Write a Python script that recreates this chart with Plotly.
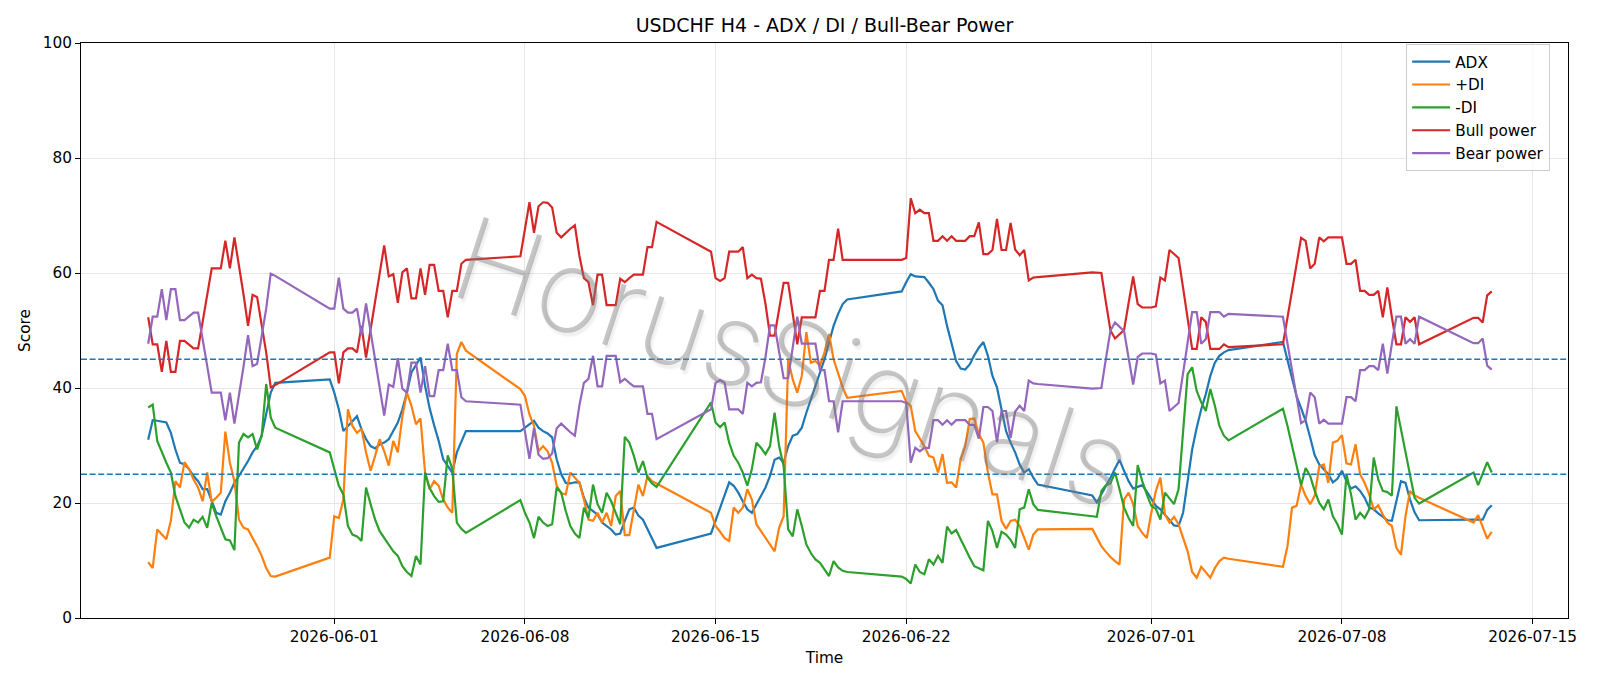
import pandas as pd
import plotly.graph_objects as go

# ---- time axis: H4 bars, one block per trading week ----
week_ranges = [
    ("2026-05-25 04:00", "2026-05-29 20:00"),
    ("2026-05-31 20:00", "2026-06-05 20:00"),
    ("2026-06-07 20:00", "2026-06-12 20:00"),
    ("2026-06-14 20:00", "2026-06-19 20:00"),
    ("2026-06-21 20:00", "2026-06-26 20:00"),
    ("2026-06-28 20:00", "2026-07-03 20:00"),
    ("2026-07-05 20:00", "2026-07-10 20:00"),
    ("2026-07-12 20:00", "2026-07-13 12:00"),
]
times = []
for a, b in week_ranges:
    times.extend(pd.date_range(a, b, freq="4h"))

adx = [
    31.0, 34.4, 34.3, 34.2, 34.0, 32.2, 29.3, 27.0, 26.7, 25.9, 24.7, 23.8, 22.4, 22.4, 20.3, 18.3, 18.0, 20.3, 21.8, 23.5, 24.7, 25.9, 27.3, 28.8, 29.9, 31.7, 35.7, 39.2, 40.9,
    41.5, 39.2, 36.3, 32.5, 33.4, 34.3, 35.1, 32.8, 31.1, 29.9, 29.5, 30.2, 30.5, 31.1, 32.5, 34.0, 36.3, 39.2, 42.7, 43.9, 45.3, 40.4, 36.5, 33.5, 30.8, 27.6, 26.4, 25.3, 28.8, 30.8, 32.5,
    32.5, 33.1, 33.7, 34.3, 33.1, 32.5, 32.1, 31.4, 27.6, 25.0, 23.5, 23.4, 23.6, 23.6, 20.9, 19.2, 18.6, 18.0, 16.6, 16.0, 15.4, 14.5, 14.7, 16.9, 18.9, 19.2, 17.8, 17.1, 15.4, 13.7, 12.2,
    14.7, 17.0, 19.0, 21.2, 23.6, 23.0, 21.8, 20.3, 18.9, 18.3, 19.8, 21.2, 22.7, 24.7, 27.5, 27.9, 27.0, 29.9, 31.7, 32.0, 33.1, 35.7, 38.0, 40.4, 42.7, 45.0, 47.9, 50.8, 52.9, 54.6, 55.4,
    56.8, 58.4, 59.8, 59.4, 59.4, 59.3, 58.3, 57.2, 55.2, 54.4, 50.8, 47.9, 44.7, 43.4, 43.2, 44.1, 45.7, 47.0, 48.0, 45.6, 42.1, 40.1, 36.3, 32.5, 30.5, 28.8, 26.7, 25.3, 25.9, 24.4, 23.2,
    21.3, 20.1, 21.5, 22.8, 24.4, 26.0, 27.5, 25.6, 23.8, 22.5, 22.8, 23.1, 22.0, 20.8, 19.5, 18.9, 18.0, 17.0, 16.1, 16.0, 18.3, 23.8, 29.3, 33.1, 36.3, 38.9, 42.1, 44.4, 45.6, 46.2, 46.6,
    48.0, 45.0, 41.8, 38.6, 36.5, 34.3, 31.4, 28.3, 26.7, 25.9, 25.0, 23.6, 24.2, 25.6, 23.8, 22.5, 22.9, 22.1, 20.9, 19.2, 18.9, 18.2, 17.6, 17.0, 16.9, 20.6, 23.8, 23.5, 20.6, 18.4, 17.0,
    17.1, 17.1, 17.1, 18.8, 19.6,
]

plus_di = [
    9.7, 8.7, 15.4, 14.5, 13.7, 16.9, 23.8, 22.7, 27.1, 25.9, 24.1, 22.7, 20.3, 25.3, 20.2, 20.9, 21.8, 32.4, 27.0, 23.8, 17.1, 15.7, 15.4, 13.9, 12.5, 10.8, 8.7, 7.3, 7.2,
    10.5, 17.7, 17.4, 20.6, 36.3, 33.4, 32.2, 32.9, 28.8, 25.6, 28.2, 31.1, 29.0, 26.5, 30.8, 28.8, 35.1, 39.2, 36.9, 33.7, 34.7, 25.3, 22.4, 23.8, 23.0, 20.6, 19.2, 18.3, 45.9, 48.0, 46.5,
    39.8, 38.6, 35.4, 33.4, 29.0, 29.9, 29.0, 27.0, 23.0, 21.7, 21.5, 25.3, 24.4, 23.5, 20.6, 17.1, 16.9, 18.3, 16.6, 18.3, 16.0, 21.2, 22.1, 14.4, 14.4, 18.9, 23.2, 21.2, 24.7, 23.8, 23.4,
    18.3, 16.0, 15.0, 13.9, 13.4, 19.2, 18.3, 19.2, 22.4, 20.6, 16.3, 15.1, 13.9, 12.8, 11.6, 15.7, 17.7, 45.0, 41.5, 39.2, 42.1, 49.7, 44.4, 44.7, 43.9, 46.2, 49.4, 45.0, 42.7, 40.1, 38.3,
    39.5, 37.6, 36.9, 32.5, 31.1, 29.9, 28.2, 27.9, 25.3, 28.5, 23.5, 23.6, 22.7, 27.6, 29.9, 34.6, 34.7, 32.0, 30.5, 25.3, 21.5, 21.5, 16.9, 15.5, 16.9, 17.1, 16.0, 13.9, 11.9, 14.5, 15.4,
    15.5, 13.9, 12.5, 11.5, 10.6, 9.9, 9.3, 20.6, 21.8, 19.8, 16.0, 14.8, 13.9, 18.3, 22.1, 24.4, 18.0, 16.6, 17.6, 16.3, 13.9, 11.6, 8.0, 7.0, 8.9, 7.9, 7.0, 8.7, 9.9, 10.5, 10.3,
    8.9, 12.5, 19.2, 19.5, 23.2, 21.2, 19.8, 21.3, 26.4, 26.7, 23.5, 30.5, 30.8, 31.8, 26.9, 26.7, 30.2, 25.0, 23.5, 21.5, 18.9, 19.6, 18.0, 16.6, 16.0, 12.2, 11.0, 17.7, 22.1, 21.3, 20.9,
    16.6, 17.9, 15.9, 13.8, 15.0,
]

minus_di = [
    36.6, 37.1, 30.8, 28.8, 27.0, 25.3, 21.2, 18.9, 16.6, 15.7, 17.1, 16.6, 17.6, 15.7, 20.0, 17.7, 15.7, 13.7, 13.5, 11.8, 30.5, 32.0, 31.4, 32.0, 29.3, 31.7, 40.7, 34.9, 33.1,
    28.8, 25.9, 23.0, 21.5, 16.0, 14.5, 14.2, 13.4, 22.7, 19.8, 17.1, 15.1, 13.9, 12.8, 11.6, 10.8, 9.0, 8.0, 7.3, 10.8, 9.3, 25.3, 22.6, 21.2, 20.2, 20.3, 28.3, 25.9, 16.6, 15.5, 14.8,
    20.5, 18.3, 16.6, 13.9, 17.6, 16.6, 16.0, 16.3, 22.7, 21.8, 18.6, 16.0, 14.7, 13.9, 19.2, 17.4, 23.2, 19.8, 18.3, 21.8, 20.3, 18.3, 16.3, 31.5, 30.5, 28.2, 25.3, 27.3, 24.4, 23.4, 22.8,
    37.5, 34.0, 33.2, 34.0, 30.5, 28.2, 27.0, 25.3, 23.0, 25.9, 30.5, 29.6, 28.5, 29.9, 35.7, 29.9, 26.4, 15.4, 14.2, 18.9, 16.0, 12.8, 11.3, 10.2, 9.6, 8.4, 7.3, 9.9, 8.8, 8.2, 8.0,
    7.2, 6.8, 6.0, 9.3, 8.0, 7.6, 10.2, 9.3, 10.8, 9.6, 15.9, 14.7, 15.3, 13.7, 11.9, 10.5, 9.0, 8.7, 8.3, 16.9, 15.1, 12.2, 15.0, 14.5, 13.6, 12.2, 18.9, 19.2, 22.4, 19.8, 18.8,
    17.7, 17.6, 22.1, 23.1, 23.4, 25.3, 22.4, 19.2, 17.4, 16.0, 26.6, 23.8, 21.5, 19.5, 19.0, 17.1, 21.8, 20.7, 19.8, 22.4, 32.3, 42.4, 43.6, 39.5, 37.5, 36.0, 39.8, 36.9, 33.4, 31.7, 30.9,
    36.4, 33.4, 29.9, 26.4, 23.1, 26.1, 24.7, 22.1, 20.0, 18.9, 20.6, 17.7, 16.3, 14.5, 25.0, 21.5, 17.1, 18.3, 17.4, 18.9, 27.9, 24.1, 22.1, 21.9, 21.3, 36.8, 32.8, 28.8, 24.4, 20.9, 19.9,
    25.3, 23.1, 25.1, 27.1, 25.3,
]

bull_power = [
    52.3, 47.6, 47.6, 42.8, 48.2, 42.8, 42.8, 48.2, 48.2, 47.6, 46.9, 46.9, 51.5, 56.0, 60.8, 60.8, 60.8, 65.6, 60.8, 66.2, 61.6, 56.3, 50.8, 56.2, 55.8, 51.3, 46.2, 40.1, 40.5,
    46.2, 46.2, 40.8, 46.2, 46.9, 46.9, 46.2, 50.8, 45.3, 50.2, 55.1, 59.8, 64.8, 59.4, 59.8, 54.8, 60.1, 60.8, 55.6, 55.6, 60.8, 56.2, 61.4, 61.4, 56.9, 56.9, 52.3, 56.9, 56.9, 61.6, 62.3,
    62.9, 67.7, 72.3, 67.0, 71.6, 72.3, 72.2, 71.4, 67.0, 66.2, 67.0, 67.7, 68.3, 63.0, 59.1, 58.4, 54.4, 59.7, 59.7, 54.4, 54.4, 54.4, 59.0, 58.4, 59.1, 59.7, 59.7, 59.7, 64.5, 64.5, 68.9,
    63.7, 59.1, 58.6, 59.1, 63.7, 63.7, 63.7, 64.5, 59.1, 59.7, 59.1, 59.0, 54.6, 49.1, 49.1, 53.7, 58.3, 58.3, 53.1, 47.6, 52.3, 52.3, 52.3, 52.3, 56.9, 56.9, 62.3, 62.3, 67.7, 62.3, 62.3,
    62.3, 62.6, 73.0, 70.4, 71.0, 70.4, 70.4, 65.6, 65.6, 66.4, 65.6, 66.4, 65.6, 65.6, 65.6, 66.4, 66.4, 68.8, 63.3, 63.3, 64.0, 69.4, 64.0, 64.0, 68.7, 64.1, 63.1, 64.0, 58.7, 59.2, 59.3,
    60.1, 60.1, 60.0, 54.9, 50.0, 48.6, 49.4, 50.1, 54.8, 59.4, 54.6, 54.0, 54.0, 54.0, 54.2, 59.2, 58.7, 64.0, 63.3, 62.6, 57.4, 52.3, 46.8, 46.8, 52.3, 51.5, 46.8, 46.8, 46.8, 47.6, 47.1,
    47.6, 52.0, 56.6, 61.5, 66.1, 65.6, 60.8, 61.6, 66.2, 65.5, 66.2, 66.2, 66.2, 66.2, 61.6, 61.6, 62.3, 56.9, 56.9, 56.2, 56.2, 56.9, 52.3, 57.5, 52.3, 47.6, 47.6, 52.3, 51.5, 52.3, 47.6,
    52.2, 52.2, 51.4, 56.1, 56.8,
]

bear_power = [
    47.7, 52.4, 52.4, 57.2, 51.8, 57.2, 57.2, 51.8, 51.8, 52.4, 53.1, 53.1, 48.5, 44.0, 39.2, 39.2, 39.2, 34.4, 39.2, 33.8, 38.4, 43.7, 49.2, 43.8, 44.2, 48.7, 53.8, 59.9, 59.5,
    53.8, 53.8, 59.2, 53.8, 53.1, 53.1, 53.8, 49.2, 54.7, 49.8, 44.9, 40.2, 35.2, 40.6, 40.2, 45.2, 39.9, 39.2, 44.4, 44.4, 39.2, 43.8, 38.6, 38.6, 43.1, 43.1, 47.7, 43.1, 43.1, 38.4, 37.7,
    37.1, 32.3, 27.7, 33.0, 28.4, 27.7, 27.8, 28.6, 33.0, 33.8, 33.0, 32.3, 31.7, 37.0, 40.9, 41.6, 45.6, 40.3, 40.3, 45.6, 45.6, 45.6, 41.0, 41.6, 40.9, 40.3, 40.3, 40.3, 35.5, 35.5, 31.1,
    36.3, 40.9, 41.4, 40.9, 36.3, 36.3, 36.3, 35.5, 40.9, 40.3, 40.9, 41.0, 45.4, 50.9, 50.9, 46.3, 41.7, 41.7, 46.9, 52.4, 47.7, 47.7, 47.7, 47.7, 43.1, 43.1, 37.7, 37.7, 32.3, 37.7, 37.7,
    37.7, 37.4, 27.0, 29.6, 29.0, 29.6, 29.6, 34.4, 34.4, 33.6, 34.4, 33.6, 34.4, 34.4, 34.4, 33.6, 33.6, 31.2, 36.7, 36.7, 36.0, 30.6, 36.0, 36.0, 31.3, 35.9, 36.9, 36.0, 41.3, 40.8, 40.7,
    39.9, 39.9, 40.0, 45.1, 50.0, 51.4, 50.6, 49.9, 45.2, 40.6, 45.4, 46.0, 46.0, 46.0, 45.8, 40.8, 41.3, 36.0, 36.7, 37.4, 42.6, 47.7, 53.2, 53.2, 47.7, 48.5, 53.2, 53.2, 53.2, 52.4, 52.9,
    52.4, 48.0, 43.4, 38.5, 33.9, 34.4, 39.2, 38.4, 33.8, 34.5, 33.8, 33.8, 33.8, 33.8, 38.4, 38.4, 37.7, 43.1, 43.1, 43.8, 43.8, 43.1, 47.7, 42.5, 47.7, 52.4, 52.4, 47.7, 48.5, 47.7, 52.4,
    47.8, 47.8, 48.6, 43.9, 43.2,
]

series = [
    ("ADX", adx, "#1f77b4"),
    ("+DI", plus_di, "#ff7f0e"),
    ("-DI", minus_di, "#2ca02c"),
    ("Bull power", bull_power, "#d62728"),
    ("Bear power", bear_power, "#9467bd"),
]

threshold_levels = [25, 45]
x_tick_dates = ["2026-06-01", "2026-06-08", "2026-06-15", "2026-06-22",
                "2026-07-01", "2026-07-08", "2026-07-15"]
y_ticks = [0, 20, 40, 60, 80, 100]

FONT = "DejaVu Sans"
TICK_SIZE = 15.3
fig = go.Figure()
for name, vals, color in series:
    n = min(len(times), len(vals))
    fig.add_trace(go.Scatter(x=times[:n], y=vals[:n], mode="lines", name=name,
                             line=dict(color=color, width=2.2)))

for lvl in threshold_levels:
    fig.add_shape(type="line", xref="paper", x0=0, x1=1, yref="y", y0=lvl, y1=lvl,
                  line=dict(color="#1f77b4", width=1.6, dash="6px,2.6px"), layer="above")

fig.add_annotation(text="HorusSignals", xref="paper", yref="paper", x=0.479, y=0.445,
                   showarrow=False, textangle=18,
                   font=dict(family="Inter", size=116, weight=200,
                             color="rgba(120,120,120,0.42)",
                             shadow="3px 3px 2px rgba(150,150,150,0.35)"))

fig.update_layout(
    width=1600, height=686,
    margin=dict(l=81, r=32, t=43, b=68),
    paper_bgcolor="white", plot_bgcolor="white",
    font=dict(family=FONT, size=TICK_SIZE, color="black"),
    title=dict(text="USDCHF H4 - ADX / DI / Bull-Bear Power", x=0.5, xref="paper",
               y=1 - 25.5 / 686, yref="container", yanchor="middle",
               font=dict(family=FONT, size=19, color="black")),
    legend=dict(x=0.988, y=0.998, xanchor="right", yanchor="top",
                bgcolor="rgba(255,255,255,0.8)", bordercolor="#cccccc", borderwidth=1,
                font=dict(family=FONT, size=TICK_SIZE), traceorder="normal",
                itemwidth=38),
    showlegend=True,
)
fig.update_xaxes(
    range=["2026-05-22 16:48", "2026-07-16 07:12"],
    tickvals=x_tick_dates, ticktext=x_tick_dates,
    showgrid=True, gridcolor="#e6e6e6", gridwidth=1,
    showline=True, linecolor="black", linewidth=1, mirror=True,
    ticks="outside", ticklen=5, tickcolor="black", tickwidth=1,
    tickfont=dict(family=FONT, size=TICK_SIZE),
    title=dict(text="Time", font=dict(family=FONT, size=TICK_SIZE), standoff=6),
    zeroline=False,
)
fig.update_yaxes(
    range=[0, 100], tickvals=y_ticks,
    showgrid=True, gridcolor="#e6e6e6", gridwidth=1,
    showline=True, linecolor="black", linewidth=1, mirror=True,
    ticks="outside", ticklen=5, tickcolor="black", tickwidth=1,
    tickfont=dict(family=FONT, size=TICK_SIZE),
    title=dict(text="Score", font=dict(family=FONT, size=TICK_SIZE), standoff=8),
    zeroline=False,
)

fig.write_html("out.html")
